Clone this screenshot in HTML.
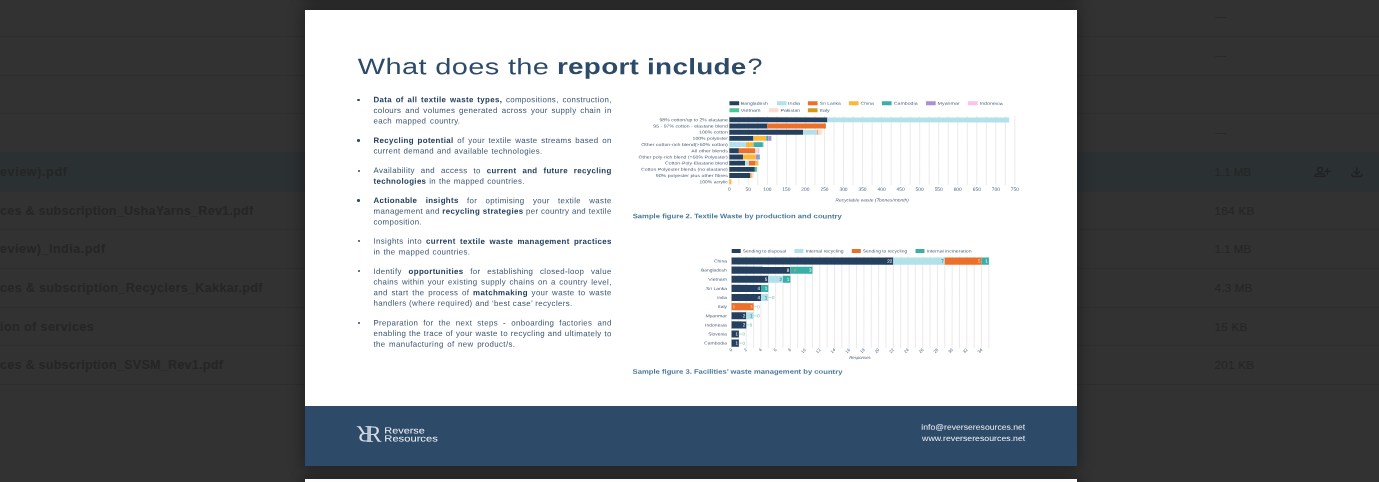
<!DOCTYPE html>
<html><head><meta charset="utf-8">
<style>
*{margin:0;padding:0;box-sizing:border-box}
html,body{width:1379px;height:482px;overflow:hidden;background:#323232;font-family:"Liberation Sans",sans-serif}
#bg{position:absolute;left:0;top:0;width:1379px;height:482px;background:#323232}
.ln{position:absolute;left:0;width:1379px;height:1px;background:#2e2e2e}
.hl{position:absolute;left:0;width:1379px;top:152px;height:39.5px;background:#2b3033}
.fn{position:absolute;left:0;font-size:12.6px;font-weight:bold;color:#252525;white-space:nowrap;line-height:14px;transform-origin:0 50%}
.sz{position:absolute;left:1214.5px;font-size:11.6px;color:#262626;-webkit-text-stroke:.15px #262626;white-space:nowrap;line-height:14px}
.ds{position:absolute;left:1214.8px;width:11px;height:1.2px;background:#292929}
#page{position:absolute;left:305px;top:9.5px;width:772px;height:456.5px;background:#fff;box-shadow:0 0 14px 2px rgba(0,0,0,.35)}
#page2{position:absolute;left:305px;top:478.5px;width:772px;height:20px;background:#fff;box-shadow:0 0 14px 2px rgba(0,0,0,.35)}
#page0{position:absolute;left:305px;top:-23px;width:772px;height:20px;background:#fff;box-shadow:0 0 14px 2px rgba(0,0,0,.35)}
#foot{position:absolute;left:0;top:396.7px;width:772px;height:59.8px;background:#2d4a68}

.tt{position:absolute;left:0;top:0;font-size:22.3px;line-height:26px;color:#2d4a68;white-space:nowrap;transform-origin:0 0}
.bl{position:absolute;left:0;top:0;transform-origin:0 0;letter-spacing:.35px;font-size:7.9px;line-height:10.65px;height:10.65px;color:#3a5573;white-space:nowrap;text-align:justify;text-align-last:justify;overflow:visible}
.bl b{color:#233f5e}
.bu{position:absolute;width:2.8px;height:2.8px;border-radius:50%;background:#2d4a68}
.blur{filter:blur(.35px)}
</style></head><body>
<div id="bg">
<div class="hl"></div>
<div class="ln" style="top:35.5px"></div>
<div class="ln" style="top:74.5px"></div>
<div class="ln" style="top:113.0px"></div>
<div class="ln" style="top:151.5px"></div>
<div class="ln" style="top:190.5px"></div>
<div class="ln" style="top:229.1px"></div>
<div class="ln" style="top:267.8px"></div>
<div class="ln" style="top:306.5px"></div>
<div class="ln" style="top:345.2px"></div>
<div class="ln" style="top:383.9px"></div>
<div class="fn" style="top:164.9px;letter-spacing:0.588px">eview).pdf</div>
<div class="fn" style="top:203.5px;letter-spacing:0.226px">ces &amp; subscription_UshaYarns_Rev1.pdf</div>
<div class="fn" style="top:242.2px;letter-spacing:0.484px">eview)_India.pdf</div>
<div class="fn" style="top:280.9px;letter-spacing:0.315px">ces &amp; subscription_Recyclers_Kakkar.pdf</div>
<div class="fn" style="top:319.6px;letter-spacing:0.397px">ion of services</div>
<div class="fn" style="top:358.2px;letter-spacing:0.236px">ces &amp; subscription_SVSM_Rev1.pdf</div>
<div class="ds" style="top:16.8px"></div>
<div class="ds" style="top:55.9px"></div>
<div class="ds" style="top:133.3px"></div>
<div class="sz" style="top:165.0px;letter-spacing:0px">1.1 MB</div>
<div class="sz" style="top:203.6px;letter-spacing:0.35px">184 KB</div>
<div class="sz" style="top:242.3px;letter-spacing:0px">1.1 MB</div>
<div class="sz" style="top:281.0px;letter-spacing:0.2px">4.3 MB</div>
<div class="sz" style="top:319.7px;letter-spacing:0.3px">15 KB</div>
<div class="sz" style="top:358.3px;letter-spacing:0.3px">201 KB</div>
<svg style="position:absolute;left:1305px;top:160px;filter:blur(.3px)" width="70" height="25" viewBox="1305 160 70 25" fill="none" stroke="#202122" stroke-width="1.3" stroke-linecap="round" stroke-linejoin="round"><circle cx="1320.05" cy="169.85" r="2.4"/><path d="M1314.7 176.3 C1314.7 174.6 1317 173.7 1319.9 173.7 C1322.8 173.7 1325.1 174.6 1325.1 176.3 Z"/><path d="M1324.7 171.3 H1330.1 M1327.4 168.6 V174"/><path d="M1356.85 167.9 V174 M1354.1 171.6 L1356.85 174.2 L1359.6 171.6 M1352 174.4 V175.6 Q1352 176.5 1352.9 176.5 H1360.9 Q1361.8 176.5 1361.8 175.6 V174.4"/></svg>
</div>
<div id="page2"></div><div id="page0"></div>
<div id="page">
<div class="blur" id="content">
<div class="tt" style="transform:translate(52.80px,44.10px) rotate(.03deg) scaleX(1.3);letter-spacing:0.27px;">What does the</div>
<div class="tt" style="transform:translate(252.00px,44.10px) rotate(.03deg) scaleX(1.25);letter-spacing:0.21px;font-weight:bold;">report include</div>
<div class="tt" style="transform:translate(442.60px,44.10px) rotate(.03deg) scaleX(1.2);letter-spacing:-0.74px;">?</div>
<div class="bu" style="width:2.6px;height:2.6px;left:52.25px;top:89.00px"></div>
<div class="bl" style="transform:translate(68.50px,85.22px) rotate(.03deg);width:238.2px"><b>Data of all textile waste types,</b> compositions, construction,</div>
<div class="bl" style="transform:translate(68.50px,95.88px) rotate(.03deg);width:238.2px">colours and volumes generated across your supply chain in</div>
<div class="bl" style="transform:translate(68.50px,106.52px) rotate(.03deg);width:86.9px">each mapped country.</div>
<div class="bu" style="width:2.6px;height:2.6px;left:52.25px;top:129.70px"></div>
<div class="bl" style="transform:translate(68.50px,125.93px) rotate(.03deg);width:238.2px"><b>Recycling potential</b> of your textile waste streams based on</div>
<div class="bl" style="transform:translate(68.50px,136.58px) rotate(.03deg);width:169.1px">current demand and available technologies.</div>
<div class="bu" style="width:2.0px;height:2.0px;left:52.55px;top:160.15px"></div>
<div class="bl" style="transform:translate(68.50px,156.08px) rotate(.03deg);width:238.2px">Availability and access to <b>current and future recycling</b></div>
<div class="bl" style="transform:translate(68.50px,166.73px) rotate(.03deg);width:151.4px"><b>technologies</b> in the mapped countries.</div>
<div class="bu" style="width:2.6px;height:2.6px;left:52.25px;top:189.85px"></div>
<div class="bl" style="transform:translate(68.50px,186.08px) rotate(.03deg);width:238.2px"><b>Actionable insights</b> for optimising your textile waste</div>
<div class="bl" style="transform:translate(68.50px,196.73px) rotate(.03deg);width:238.2px">management and <b>recycling strategies</b> per country and textile</div>
<div class="bl" style="transform:translate(68.50px,207.38px) rotate(.03deg);width:50.4px">composition.</div>
<div class="bu" style="width:2.0px;height:2.0px;left:52.55px;top:230.90px"></div>
<div class="bl" style="transform:translate(68.50px,226.83px) rotate(.03deg);width:238.2px">Insights into <b>current textile waste management practices</b></div>
<div class="bl" style="transform:translate(68.50px,237.48px) rotate(.03deg);width:96.8px">in the mapped countries.</div>
<div class="bu" style="width:2.0px;height:2.0px;left:52.55px;top:260.95px"></div>
<div class="bl" style="transform:translate(68.50px,256.88px) rotate(.03deg);width:238.2px">Identify <b>opportunities</b> for establishing closed-loop value</div>
<div class="bl" style="transform:translate(68.50px,267.52px) rotate(.03deg);width:238.2px">chains within your existing supply chains on a country level,</div>
<div class="bl" style="transform:translate(68.50px,278.18px) rotate(.03deg);width:238.2px">and start the process of <b>matchmaking</b> your waste to waste</div>
<div class="bl" style="transform:translate(68.50px,288.82px) rotate(.03deg);width:195.5px">handlers (where required) and &lsquo;best case&rsquo; recyclers.</div>
<div class="bu" style="width:2.0px;height:2.0px;left:52.55px;top:312.45px"></div>
<div class="bl" style="transform:translate(68.50px,308.38px) rotate(.03deg);width:238.2px">Preparation for the next steps - onboarding factories and</div>
<div class="bl" style="transform:translate(68.50px,319.02px) rotate(.03deg);width:238.2px">enabling the trace of your waste to recycling and ultimately to</div>
<div class="bl" style="transform:translate(68.50px,329.68px) rotate(.03deg);width:141.8px">the manufacturing of new product/s.</div>
<svg style="position:absolute;left:0;top:0" width="772" height="456.5" viewBox="305.0 9.5 772 456.5" font-family="Liberation Sans, sans-serif"><g transform="rotate(0.03 850 230)">
<line x1="729.30" y1="115.5" x2="729.30" y2="184.5" stroke="#dcdcdc" stroke-width="0.6"/>
<line x1="738.82" y1="115.5" x2="738.82" y2="184.5" stroke="#dcdcdc" stroke-width="0.6"/>
<line x1="748.33" y1="115.5" x2="748.33" y2="184.5" stroke="#dcdcdc" stroke-width="0.6"/>
<line x1="757.85" y1="115.5" x2="757.85" y2="184.5" stroke="#dcdcdc" stroke-width="0.6"/>
<line x1="767.37" y1="115.5" x2="767.37" y2="184.5" stroke="#dcdcdc" stroke-width="0.6"/>
<line x1="776.89" y1="115.5" x2="776.89" y2="184.5" stroke="#dcdcdc" stroke-width="0.6"/>
<line x1="786.40" y1="115.5" x2="786.40" y2="184.5" stroke="#dcdcdc" stroke-width="0.6"/>
<line x1="795.92" y1="115.5" x2="795.92" y2="184.5" stroke="#dcdcdc" stroke-width="0.6"/>
<line x1="805.44" y1="115.5" x2="805.44" y2="184.5" stroke="#dcdcdc" stroke-width="0.6"/>
<line x1="814.96" y1="115.5" x2="814.96" y2="184.5" stroke="#dcdcdc" stroke-width="0.6"/>
<line x1="824.47" y1="115.5" x2="824.47" y2="184.5" stroke="#dcdcdc" stroke-width="0.6"/>
<line x1="833.99" y1="115.5" x2="833.99" y2="184.5" stroke="#dcdcdc" stroke-width="0.6"/>
<line x1="843.51" y1="115.5" x2="843.51" y2="184.5" stroke="#dcdcdc" stroke-width="0.6"/>
<line x1="853.03" y1="115.5" x2="853.03" y2="184.5" stroke="#dcdcdc" stroke-width="0.6"/>
<line x1="862.54" y1="115.5" x2="862.54" y2="184.5" stroke="#dcdcdc" stroke-width="0.6"/>
<line x1="872.06" y1="115.5" x2="872.06" y2="184.5" stroke="#dcdcdc" stroke-width="0.6"/>
<line x1="881.58" y1="115.5" x2="881.58" y2="184.5" stroke="#dcdcdc" stroke-width="0.6"/>
<line x1="891.10" y1="115.5" x2="891.10" y2="184.5" stroke="#dcdcdc" stroke-width="0.6"/>
<line x1="900.62" y1="115.5" x2="900.62" y2="184.5" stroke="#dcdcdc" stroke-width="0.6"/>
<line x1="910.13" y1="115.5" x2="910.13" y2="184.5" stroke="#dcdcdc" stroke-width="0.6"/>
<line x1="919.65" y1="115.5" x2="919.65" y2="184.5" stroke="#dcdcdc" stroke-width="0.6"/>
<line x1="929.17" y1="115.5" x2="929.17" y2="184.5" stroke="#dcdcdc" stroke-width="0.6"/>
<line x1="938.68" y1="115.5" x2="938.68" y2="184.5" stroke="#dcdcdc" stroke-width="0.6"/>
<line x1="948.20" y1="115.5" x2="948.20" y2="184.5" stroke="#dcdcdc" stroke-width="0.6"/>
<line x1="957.72" y1="115.5" x2="957.72" y2="184.5" stroke="#dcdcdc" stroke-width="0.6"/>
<line x1="967.24" y1="115.5" x2="967.24" y2="184.5" stroke="#dcdcdc" stroke-width="0.6"/>
<line x1="976.75" y1="115.5" x2="976.75" y2="184.5" stroke="#dcdcdc" stroke-width="0.6"/>
<line x1="986.27" y1="115.5" x2="986.27" y2="184.5" stroke="#dcdcdc" stroke-width="0.6"/>
<line x1="995.79" y1="115.5" x2="995.79" y2="184.5" stroke="#dcdcdc" stroke-width="0.6"/>
<line x1="1005.31" y1="115.5" x2="1005.31" y2="184.5" stroke="#dcdcdc" stroke-width="0.6"/>
<line x1="1014.82" y1="115.5" x2="1014.82" y2="184.5" stroke="#dcdcdc" stroke-width="0.6"/>
<rect x="729.4" y="100.8" width="9.7" height="4" fill="#24405e"/>
<text x="740.7" y="104.3" font-size="4.2" text-anchor="start" fill="#4d627a" textLength="27.1" lengthAdjust="spacingAndGlyphs">Bangladesh</text>
<rect x="776.8" y="100.8" width="9.7" height="4" fill="#b3e1e9"/>
<text x="788.0" y="104.3" font-size="4.2" text-anchor="start" fill="#4d627a" textLength="12.0" lengthAdjust="spacingAndGlyphs">India</text>
<rect x="807.8" y="100.8" width="9.7" height="4" fill="#ec7029"/>
<text x="819.8" y="104.3" font-size="4.2" text-anchor="start" fill="#4d627a" textLength="21.0" lengthAdjust="spacingAndGlyphs">Sri Lanka</text>
<rect x="848.8" y="100.8" width="9.7" height="4" fill="#fdb839"/>
<text x="860.5" y="104.3" font-size="4.2" text-anchor="start" fill="#4d627a" textLength="13.3" lengthAdjust="spacingAndGlyphs">China</text>
<rect x="881.8" y="100.8" width="9.7" height="4" fill="#3aafa9"/>
<text x="893.8" y="104.3" font-size="4.2" text-anchor="start" fill="#4d627a" textLength="23.7" lengthAdjust="spacingAndGlyphs">Cambodia</text>
<rect x="925.9" y="100.8" width="9.7" height="4" fill="#ac8fd6"/>
<text x="937.5" y="104.3" font-size="4.2" text-anchor="start" fill="#4d627a" textLength="22.1" lengthAdjust="spacingAndGlyphs">Myanmar</text>
<rect x="967.9" y="100.8" width="9.7" height="4" fill="#f9c0f0"/>
<text x="979.6" y="104.3" font-size="4.2" text-anchor="start" fill="#4d627a" textLength="23.0" lengthAdjust="spacingAndGlyphs">Indonesia</text>
<rect x="729.4" y="107.7" width="9.7" height="4" fill="#4dc59a"/>
<text x="740.7" y="111.2" font-size="4.2" text-anchor="start" fill="#4d627a" textLength="19.7" lengthAdjust="spacingAndGlyphs">Vietnam</text>
<rect x="768.8" y="107.7" width="9.7" height="4" fill="#fcdcd0"/>
<text x="780.4" y="111.2" font-size="4.2" text-anchor="start" fill="#4d627a" textLength="19.7" lengthAdjust="spacingAndGlyphs">Pakistan</text>
<rect x="807.8" y="107.7" width="9.7" height="4" fill="#d49a1a"/>
<text x="819.8" y="111.2" font-size="4.2" text-anchor="start" fill="#4d627a" textLength="10.0" lengthAdjust="spacingAndGlyphs">Italy</text>
<rect x="729.30" y="116.90" width="98.11" height="4.9" fill="#24405e"/>
<rect x="827.41" y="116.90" width="181.71" height="4.9" fill="#b3e1e9"/>
<text x="727.8" y="120.8" font-size="4.2" text-anchor="end" fill="#4d627a" textLength="68.4" lengthAdjust="spacingAndGlyphs">98% cotton/up to 2% elastane</text>
<rect x="729.30" y="123.09" width="38.07" height="4.9" fill="#24405e"/>
<rect x="767.37" y="123.09" width="58.44" height="4.9" fill="#ec7029"/>
<text x="727.8" y="127.0" font-size="4.2" text-anchor="end" fill="#4d627a" textLength="74.5" lengthAdjust="spacingAndGlyphs">95 - 97% cotton - elastane blend</text>
<rect x="729.30" y="129.29" width="73.70" height="4.9" fill="#24405e"/>
<rect x="803.00" y="129.29" width="14.35" height="4.9" fill="#b3e1e9"/>
<rect x="817.36" y="129.29" width="0.91" height="4.9" fill="#ec7029"/>
<rect x="818.27" y="129.29" width="3.43" height="4.9" fill="#fcdcd0"/>
<text x="727.8" y="133.2" font-size="4.2" text-anchor="end" fill="#4d627a" textLength="28.8" lengthAdjust="spacingAndGlyphs">100% cotton</text>
<rect x="729.30" y="135.49" width="24.17" height="4.9" fill="#24405e"/>
<rect x="753.47" y="135.49" width="12.75" height="4.9" fill="#fdb839"/>
<rect x="766.23" y="135.49" width="2.09" height="4.9" fill="#3aafa9"/>
<rect x="768.32" y="135.49" width="2.74" height="4.9" fill="#ac8fd6"/>
<rect x="771.06" y="135.49" width="0.88" height="4.9" fill="#f9c0f0"/>
<text x="727.8" y="139.4" font-size="4.2" text-anchor="end" fill="#4d627a" textLength="35.3" lengthAdjust="spacingAndGlyphs">100% polyester</text>
<rect x="729.30" y="141.68" width="16.64" height="4.9" fill="#b3e1e9"/>
<rect x="745.94" y="141.68" width="7.54" height="4.9" fill="#fdb839"/>
<rect x="753.47" y="141.68" width="9.33" height="4.9" fill="#3aafa9"/>
<rect x="762.80" y="141.68" width="1.14" height="4.9" fill="#b3e1e9"/>
<text x="727.8" y="145.6" font-size="4.2" text-anchor="end" fill="#4d627a" textLength="86.6" lengthAdjust="spacingAndGlyphs">Other cotton-rich blend(&gt;50% cotton)</text>
<rect x="729.30" y="147.88" width="9.52" height="4.9" fill="#24405e"/>
<rect x="738.82" y="147.88" width="16.48" height="4.9" fill="#ec7029"/>
<rect x="755.30" y="147.88" width="2.55" height="4.9" fill="#fcdcd0"/>
<rect x="757.85" y="147.88" width="1.52" height="4.9" fill="#f9c0f0"/>
<text x="727.8" y="151.8" font-size="4.2" text-anchor="end" fill="#4d627a" textLength="36.5" lengthAdjust="spacingAndGlyphs">All other blends</text>
<rect x="729.30" y="154.07" width="13.71" height="4.9" fill="#24405e"/>
<rect x="743.01" y="154.07" width="12.75" height="4.9" fill="#fdb839"/>
<rect x="755.76" y="154.07" width="2.47" height="4.9" fill="#ac8fd6"/>
<rect x="758.23" y="154.07" width="1.41" height="4.9" fill="#3aafa9"/>
<text x="727.8" y="158.0" font-size="4.2" text-anchor="end" fill="#4d627a" textLength="89.4" lengthAdjust="spacingAndGlyphs">Other poly-rich blend (&gt;50% Polyester)</text>
<rect x="729.30" y="160.27" width="15.76" height="4.9" fill="#24405e"/>
<rect x="745.06" y="160.27" width="3.85" height="4.9" fill="#b3e1e9"/>
<rect x="748.91" y="160.27" width="6.66" height="4.9" fill="#ec7029"/>
<rect x="755.57" y="160.27" width="2.66" height="4.9" fill="#fdb839"/>
<text x="727.8" y="164.2" font-size="4.2" text-anchor="end" fill="#4d627a" textLength="62.8" lengthAdjust="spacingAndGlyphs">Cotton-Poly-Elastane blend</text>
<rect x="729.30" y="166.46" width="25.51" height="4.9" fill="#24405e"/>
<rect x="754.81" y="166.46" width="2.09" height="4.9" fill="#4dc59a"/>
<text x="727.8" y="170.4" font-size="4.2" text-anchor="end" fill="#4d627a" textLength="86.8" lengthAdjust="spacingAndGlyphs">Cotton Polyester blends (no elastane)</text>
<rect x="729.30" y="172.66" width="21.20" height="4.9" fill="#24405e"/>
<rect x="750.50" y="172.66" width="1.37" height="4.9" fill="#fdb839"/>
<rect x="751.88" y="172.66" width="1.79" height="4.9" fill="#fcdcd0"/>
<text x="727.8" y="176.6" font-size="4.2" text-anchor="end" fill="#4d627a" textLength="72.1" lengthAdjust="spacingAndGlyphs">90% polyester plus other fibres</text>
<rect x="729.30" y="178.85" width="2.06" height="4.9" fill="#fdb839"/>
<text x="727.8" y="182.8" font-size="4.2" text-anchor="end" fill="#4d627a" textLength="28.3" lengthAdjust="spacingAndGlyphs">100% acrylic</text>
<text x="729.3" y="190.2" font-size="4.7" text-anchor="middle" fill="#4d627a" textLength="2.7" lengthAdjust="spacingAndGlyphs">0</text>
<text x="748.3" y="190.2" font-size="4.7" text-anchor="middle" fill="#4d627a" textLength="5.4" lengthAdjust="spacingAndGlyphs">50</text>
<text x="767.4" y="190.2" font-size="4.7" text-anchor="middle" fill="#4d627a" textLength="8.1" lengthAdjust="spacingAndGlyphs">100</text>
<text x="786.4" y="190.2" font-size="4.7" text-anchor="middle" fill="#4d627a" textLength="8.1" lengthAdjust="spacingAndGlyphs">150</text>
<text x="805.4" y="190.2" font-size="4.7" text-anchor="middle" fill="#4d627a" textLength="8.1" lengthAdjust="spacingAndGlyphs">200</text>
<text x="824.5" y="190.2" font-size="4.7" text-anchor="middle" fill="#4d627a" textLength="8.1" lengthAdjust="spacingAndGlyphs">250</text>
<text x="843.5" y="190.2" font-size="4.7" text-anchor="middle" fill="#4d627a" textLength="8.1" lengthAdjust="spacingAndGlyphs">300</text>
<text x="862.5" y="190.2" font-size="4.7" text-anchor="middle" fill="#4d627a" textLength="8.1" lengthAdjust="spacingAndGlyphs">350</text>
<text x="881.6" y="190.2" font-size="4.7" text-anchor="middle" fill="#4d627a" textLength="8.1" lengthAdjust="spacingAndGlyphs">400</text>
<text x="900.6" y="190.2" font-size="4.7" text-anchor="middle" fill="#4d627a" textLength="8.1" lengthAdjust="spacingAndGlyphs">450</text>
<text x="919.6" y="190.2" font-size="4.7" text-anchor="middle" fill="#4d627a" textLength="8.1" lengthAdjust="spacingAndGlyphs">500</text>
<text x="938.7" y="190.2" font-size="4.7" text-anchor="middle" fill="#4d627a" textLength="8.1" lengthAdjust="spacingAndGlyphs">550</text>
<text x="957.7" y="190.2" font-size="4.7" text-anchor="middle" fill="#4d627a" textLength="8.1" lengthAdjust="spacingAndGlyphs">600</text>
<text x="976.8" y="190.2" font-size="4.7" text-anchor="middle" fill="#4d627a" textLength="8.1" lengthAdjust="spacingAndGlyphs">650</text>
<text x="995.8" y="190.2" font-size="4.7" text-anchor="middle" fill="#4d627a" textLength="8.1" lengthAdjust="spacingAndGlyphs">700</text>
<text x="1014.8" y="190.2" font-size="4.7" text-anchor="middle" fill="#4d627a" textLength="8.1" lengthAdjust="spacingAndGlyphs">750</text>
<text x="872.2" y="201.0" font-size="4.3" text-anchor="middle" fill="#4d627a" textLength="73.5" lengthAdjust="spacingAndGlyphs" font-style="italic">Recyclable waste (Tonnes/month)</text>
<text x="632.7" y="217.9" font-size="6.6" text-anchor="start" fill="#4a7a9a" textLength="209.1" lengthAdjust="spacingAndGlyphs" font-weight="bold">Sample figure 2. Textile Waste by production and country</text>
<line x1="731.60" y1="256.0" x2="731.60" y2="347.5" stroke="#dcdcdc" stroke-width="0.6"/>
<line x1="738.95" y1="256.0" x2="738.95" y2="347.5" stroke="#dcdcdc" stroke-width="0.6"/>
<line x1="746.30" y1="256.0" x2="746.30" y2="347.5" stroke="#dcdcdc" stroke-width="0.6"/>
<line x1="753.66" y1="256.0" x2="753.66" y2="347.5" stroke="#dcdcdc" stroke-width="0.6"/>
<line x1="761.01" y1="256.0" x2="761.01" y2="347.5" stroke="#dcdcdc" stroke-width="0.6"/>
<line x1="768.36" y1="256.0" x2="768.36" y2="347.5" stroke="#dcdcdc" stroke-width="0.6"/>
<line x1="775.71" y1="256.0" x2="775.71" y2="347.5" stroke="#dcdcdc" stroke-width="0.6"/>
<line x1="783.06" y1="256.0" x2="783.06" y2="347.5" stroke="#dcdcdc" stroke-width="0.6"/>
<line x1="790.42" y1="256.0" x2="790.42" y2="347.5" stroke="#dcdcdc" stroke-width="0.6"/>
<line x1="797.77" y1="256.0" x2="797.77" y2="347.5" stroke="#dcdcdc" stroke-width="0.6"/>
<line x1="805.12" y1="256.0" x2="805.12" y2="347.5" stroke="#dcdcdc" stroke-width="0.6"/>
<line x1="812.47" y1="256.0" x2="812.47" y2="347.5" stroke="#dcdcdc" stroke-width="0.6"/>
<line x1="819.82" y1="256.0" x2="819.82" y2="347.5" stroke="#dcdcdc" stroke-width="0.6"/>
<line x1="827.18" y1="256.0" x2="827.18" y2="347.5" stroke="#dcdcdc" stroke-width="0.6"/>
<line x1="834.53" y1="256.0" x2="834.53" y2="347.5" stroke="#dcdcdc" stroke-width="0.6"/>
<line x1="841.88" y1="256.0" x2="841.88" y2="347.5" stroke="#dcdcdc" stroke-width="0.6"/>
<line x1="849.23" y1="256.0" x2="849.23" y2="347.5" stroke="#dcdcdc" stroke-width="0.6"/>
<line x1="856.58" y1="256.0" x2="856.58" y2="347.5" stroke="#dcdcdc" stroke-width="0.6"/>
<line x1="863.94" y1="256.0" x2="863.94" y2="347.5" stroke="#dcdcdc" stroke-width="0.6"/>
<line x1="871.29" y1="256.0" x2="871.29" y2="347.5" stroke="#dcdcdc" stroke-width="0.6"/>
<line x1="878.64" y1="256.0" x2="878.64" y2="347.5" stroke="#dcdcdc" stroke-width="0.6"/>
<line x1="885.99" y1="256.0" x2="885.99" y2="347.5" stroke="#dcdcdc" stroke-width="0.6"/>
<line x1="893.34" y1="256.0" x2="893.34" y2="347.5" stroke="#dcdcdc" stroke-width="0.6"/>
<line x1="900.70" y1="256.0" x2="900.70" y2="347.5" stroke="#dcdcdc" stroke-width="0.6"/>
<line x1="908.05" y1="256.0" x2="908.05" y2="347.5" stroke="#dcdcdc" stroke-width="0.6"/>
<line x1="915.40" y1="256.0" x2="915.40" y2="347.5" stroke="#dcdcdc" stroke-width="0.6"/>
<line x1="922.75" y1="256.0" x2="922.75" y2="347.5" stroke="#dcdcdc" stroke-width="0.6"/>
<line x1="930.10" y1="256.0" x2="930.10" y2="347.5" stroke="#dcdcdc" stroke-width="0.6"/>
<line x1="937.46" y1="256.0" x2="937.46" y2="347.5" stroke="#dcdcdc" stroke-width="0.6"/>
<line x1="944.81" y1="256.0" x2="944.81" y2="347.5" stroke="#dcdcdc" stroke-width="0.6"/>
<line x1="952.16" y1="256.0" x2="952.16" y2="347.5" stroke="#dcdcdc" stroke-width="0.6"/>
<line x1="959.51" y1="256.0" x2="959.51" y2="347.5" stroke="#dcdcdc" stroke-width="0.6"/>
<line x1="966.86" y1="256.0" x2="966.86" y2="347.5" stroke="#dcdcdc" stroke-width="0.6"/>
<line x1="974.22" y1="256.0" x2="974.22" y2="347.5" stroke="#dcdcdc" stroke-width="0.6"/>
<line x1="981.57" y1="256.0" x2="981.57" y2="347.5" stroke="#dcdcdc" stroke-width="0.6"/>
<line x1="988.92" y1="256.0" x2="988.92" y2="347.5" stroke="#dcdcdc" stroke-width="0.6"/>
<rect x="731.7" y="248.5" width="9" height="4" fill="#24405e"/>
<text x="742.7" y="252.0" font-size="4.2" text-anchor="start" fill="#4d627a" textLength="43.4" lengthAdjust="spacingAndGlyphs">Sending to disposal</text>
<rect x="794.4" y="248.5" width="9" height="4" fill="#b3e1e9"/>
<text x="805.5" y="252.0" font-size="4.2" text-anchor="start" fill="#4d627a" textLength="38.0" lengthAdjust="spacingAndGlyphs">Internal recycling</text>
<rect x="851.8" y="248.5" width="9" height="4" fill="#ec7029"/>
<text x="862.8" y="252.0" font-size="4.2" text-anchor="start" fill="#4d627a" textLength="44.4" lengthAdjust="spacingAndGlyphs">Sending to recycling</text>
<rect x="915.5" y="248.5" width="9" height="4" fill="#3aafa9"/>
<text x="926.5" y="252.0" font-size="4.2" text-anchor="start" fill="#4d627a" textLength="45.1" lengthAdjust="spacingAndGlyphs">Internal incineration</text>
<rect x="731.60" y="257.05" width="161.74" height="7.1" fill="#24405e"/>
<text x="892.3" y="262.2" font-size="4.6" text-anchor="end" fill="#ffffff">22</text>
<rect x="893.34" y="257.05" width="51.46" height="7.1" fill="#b3e1e9"/>
<text x="943.8" y="262.2" font-size="4.6" text-anchor="end" fill="#4d627a">7</text>
<rect x="944.81" y="257.05" width="36.76" height="7.1" fill="#ec7029"/>
<text x="980.6" y="262.2" font-size="4.6" text-anchor="end" fill="#fbd3b6">5</text>
<rect x="981.57" y="257.05" width="7.35" height="7.1" fill="#3aafa9"/>
<text x="987.9" y="262.2" font-size="4.6" text-anchor="end" fill="#ffffff">1</text>
<text x="727.0" y="262.1" font-size="4.2" text-anchor="end" fill="#4d627a" textLength="13.0" lengthAdjust="spacingAndGlyphs">China</text>
<rect x="731.60" y="266.18" width="58.82" height="7.1" fill="#24405e"/>
<text x="789.4" y="271.3" font-size="4.6" text-anchor="end" fill="#ffffff">8</text>
<rect x="790.42" y="266.18" width="22.06" height="7.1" fill="#3aafa9"/>
<text x="811.5" y="271.3" font-size="4.6" text-anchor="end" fill="#ffffff">3</text>
<text x="727.0" y="271.2" font-size="4.2" text-anchor="end" fill="#4d627a" textLength="25.9" lengthAdjust="spacingAndGlyphs">Bangladesh</text>
<rect x="731.60" y="275.30" width="36.76" height="7.1" fill="#24405e"/>
<text x="767.4" y="280.5" font-size="4.6" text-anchor="end" fill="#ffffff">5</text>
<rect x="768.36" y="275.30" width="14.70" height="7.1" fill="#b3e1e9"/>
<text x="782.1" y="280.5" font-size="4.6" text-anchor="end" fill="#4d627a">2</text>
<rect x="783.06" y="275.30" width="7.35" height="7.1" fill="#3aafa9"/>
<text x="789.4" y="280.5" font-size="4.6" text-anchor="end" fill="#ffffff">1</text>
<text x="727.0" y="280.4" font-size="4.2" text-anchor="end" fill="#4d627a" textLength="18.7" lengthAdjust="spacingAndGlyphs">Vietnam</text>
<rect x="731.60" y="284.43" width="29.41" height="7.1" fill="#24405e"/>
<text x="760.0" y="289.6" font-size="4.6" text-anchor="end" fill="#ffffff">4</text>
<rect x="761.01" y="284.43" width="7.35" height="7.1" fill="#3aafa9"/>
<text x="767.4" y="289.6" font-size="4.6" text-anchor="end" fill="#ffffff">1</text>
<text x="727.0" y="289.5" font-size="4.2" text-anchor="end" fill="#4d627a" textLength="20.9" lengthAdjust="spacingAndGlyphs">Sri Lanka</text>
<rect x="731.60" y="293.55" width="29.41" height="7.1" fill="#24405e"/>
<text x="760.0" y="298.7" font-size="4.6" text-anchor="end" fill="#ffffff">4</text>
<rect x="761.01" y="293.55" width="7.35" height="7.1" fill="#b3e1e9"/>
<text x="767.4" y="298.7" font-size="4.6" text-anchor="end" fill="#4d627a">1</text>
<line x1="768.36" y1="297.10" x2="771.56" y2="297.10" stroke="#8cc9bb" stroke-width="0.6"/>
<text x="772.0" y="298.6" font-size="4.4" text-anchor="start" fill="#63b9a6">0</text>
<text x="727.0" y="298.6" font-size="4.2" text-anchor="end" fill="#4d627a" textLength="9.6" lengthAdjust="spacingAndGlyphs">India</text>
<rect x="731.60" y="302.68" width="22.06" height="7.1" fill="#ec7029"/>
<text x="752.7" y="307.8" font-size="4.6" text-anchor="end" fill="#fbd3b6">3</text>
<line x1="753.66" y1="306.23" x2="756.86" y2="306.23" stroke="#8cc9bb" stroke-width="0.6"/>
<text x="757.3" y="307.7" font-size="4.4" text-anchor="start" fill="#63b9a6">0</text>
<text x="727.0" y="307.7" font-size="4.2" text-anchor="end" fill="#4d627a" textLength="9.0" lengthAdjust="spacingAndGlyphs">Italy</text>
<rect x="731.60" y="311.80" width="14.70" height="7.1" fill="#24405e"/>
<text x="745.3" y="317.0" font-size="4.6" text-anchor="end" fill="#ffffff">2</text>
<rect x="746.30" y="311.80" width="7.35" height="7.1" fill="#b3e1e9"/>
<text x="752.7" y="317.0" font-size="4.6" text-anchor="end" fill="#4d627a">1</text>
<line x1="753.66" y1="315.35" x2="756.86" y2="315.35" stroke="#8cc9bb" stroke-width="0.6"/>
<text x="757.3" y="316.9" font-size="4.4" text-anchor="start" fill="#63b9a6">0</text>
<text x="727.0" y="316.9" font-size="4.2" text-anchor="end" fill="#4d627a" textLength="21.5" lengthAdjust="spacingAndGlyphs">Myanmar</text>
<rect x="731.60" y="320.93" width="14.70" height="7.1" fill="#24405e"/>
<text x="745.3" y="326.1" font-size="4.6" text-anchor="end" fill="#ffffff">2</text>
<line x1="746.30" y1="324.48" x2="749.50" y2="324.48" stroke="#8cc9bb" stroke-width="0.6"/>
<text x="749.9" y="326.0" font-size="4.4" text-anchor="start" fill="#63b9a6">0</text>
<text x="727.0" y="326.0" font-size="4.2" text-anchor="end" fill="#4d627a" textLength="21.9" lengthAdjust="spacingAndGlyphs">Indonesia</text>
<rect x="731.60" y="330.05" width="7.35" height="7.1" fill="#24405e"/>
<text x="738.0" y="335.2" font-size="4.6" text-anchor="end" fill="#ffffff">1</text>
<line x1="738.95" y1="333.60" x2="742.15" y2="333.60" stroke="#8cc9bb" stroke-width="0.6"/>
<text x="742.6" y="335.1" font-size="4.4" text-anchor="start" fill="#63b9a6">0</text>
<text x="727.0" y="335.1" font-size="4.2" text-anchor="end" fill="#4d627a" textLength="18.7" lengthAdjust="spacingAndGlyphs">Slovenia</text>
<rect x="731.60" y="339.18" width="7.35" height="7.1" fill="#24405e"/>
<text x="738.0" y="344.3" font-size="4.6" text-anchor="end" fill="#ffffff">1</text>
<line x1="738.95" y1="342.73" x2="742.15" y2="342.73" stroke="#8cc9bb" stroke-width="0.6"/>
<text x="742.6" y="344.2" font-size="4.4" text-anchor="start" fill="#63b9a6">0</text>
<text x="727.0" y="344.2" font-size="4.2" text-anchor="end" fill="#4d627a" textLength="22.9" lengthAdjust="spacingAndGlyphs">Cambodia</text>
<text x="796.4" y="271.2" font-size="4.2" text-anchor="end" fill="#ec9a4a">0</text>
<text x="735.1" y="307.7" font-size="4.2" text-anchor="end" fill="#f7c9a6">0</text>
<text font-size="4.3" fill="#4d627a" text-anchor="end" transform="translate(732.80,349.6) rotate(-45)">0</text>
<text font-size="4.3" fill="#4d627a" text-anchor="end" transform="translate(747.50,349.6) rotate(-45)">2</text>
<text font-size="4.3" fill="#4d627a" text-anchor="end" transform="translate(762.21,349.6) rotate(-45)">4</text>
<text font-size="4.3" fill="#4d627a" text-anchor="end" transform="translate(776.91,349.6) rotate(-45)">6</text>
<text font-size="4.3" fill="#4d627a" text-anchor="end" transform="translate(791.62,349.6) rotate(-45)">8</text>
<text font-size="4.3" fill="#4d627a" text-anchor="end" transform="translate(806.32,349.6) rotate(-45)">10</text>
<text font-size="4.3" fill="#4d627a" text-anchor="end" transform="translate(821.02,349.6) rotate(-45)">12</text>
<text font-size="4.3" fill="#4d627a" text-anchor="end" transform="translate(835.73,349.6) rotate(-45)">14</text>
<text font-size="4.3" fill="#4d627a" text-anchor="end" transform="translate(850.43,349.6) rotate(-45)">16</text>
<text font-size="4.3" fill="#4d627a" text-anchor="end" transform="translate(865.14,349.6) rotate(-45)">18</text>
<text font-size="4.3" fill="#4d627a" text-anchor="end" transform="translate(879.84,349.6) rotate(-45)">20</text>
<text font-size="4.3" fill="#4d627a" text-anchor="end" transform="translate(894.54,349.6) rotate(-45)">22</text>
<text font-size="4.3" fill="#4d627a" text-anchor="end" transform="translate(909.25,349.6) rotate(-45)">24</text>
<text font-size="4.3" fill="#4d627a" text-anchor="end" transform="translate(923.95,349.6) rotate(-45)">26</text>
<text font-size="4.3" fill="#4d627a" text-anchor="end" transform="translate(938.66,349.6) rotate(-45)">28</text>
<text font-size="4.3" fill="#4d627a" text-anchor="end" transform="translate(953.36,349.6) rotate(-45)">30</text>
<text font-size="4.3" fill="#4d627a" text-anchor="end" transform="translate(968.06,349.6) rotate(-45)">32</text>
<text font-size="4.3" fill="#4d627a" text-anchor="end" transform="translate(982.77,349.6) rotate(-45)">34</text>
<text x="860.0" y="358.6" font-size="4.3" text-anchor="middle" fill="#4d627a" font-style="italic">Responses</text>
<text x="632.7" y="373.4" font-size="6.6" text-anchor="start" fill="#4a7a9a" textLength="209.8" lengthAdjust="spacingAndGlyphs" font-weight="bold">Sample figure 3. Facilities&rsquo; waste management by country</text>
</g></svg></div>
<div id="foot">
<svg class="blur" style="position:absolute;left:0;top:0" width="772" height="59.8" viewBox="305 406.2 772 59.8"><g transform="rotate(0.03 690 436)">
<text x="366.0" y="442.1" font-family="Liberation Serif, serif" font-size="23.4" fill="#d3dae2" textLength="15.6" lengthAdjust="spacingAndGlyphs">R</text>
<g transform="rotate(180 364.10 434.35)"><text x="356.0" y="442.1" font-family="Liberation Serif, serif" font-size="23.4" fill="#d3dae2" textLength="15.6" lengthAdjust="spacingAndGlyphs">R</text></g>
<rect x="368.75" y="427.4" width="0.5" height="13.6" fill="#2d4a68" opacity=".55"/>
<text x="384.3" y="433.9" font-family="Liberation Sans, sans-serif" font-size="8.9" fill="#f2f5f8" textLength="40.6" lengthAdjust="spacingAndGlyphs">Reverse</text>
<text x="384.3" y="441.9" font-family="Liberation Sans, sans-serif" font-size="8.9" fill="#f2f5f8" textLength="53.5" lengthAdjust="spacingAndGlyphs">Resources</text>
<text x="921.3" y="429.9" font-family="Liberation Sans, sans-serif" font-size="8" fill="#eef2f6" textLength="104.0" lengthAdjust="spacingAndGlyphs">info@reverseresources.net</text>
<text x="922.1" y="441.0" font-family="Liberation Sans, sans-serif" font-size="8" fill="#eef2f6" textLength="103.2" lengthAdjust="spacingAndGlyphs">www.reverseresources.net</text>
</g></svg>
</div>
</div>
</body></html>
